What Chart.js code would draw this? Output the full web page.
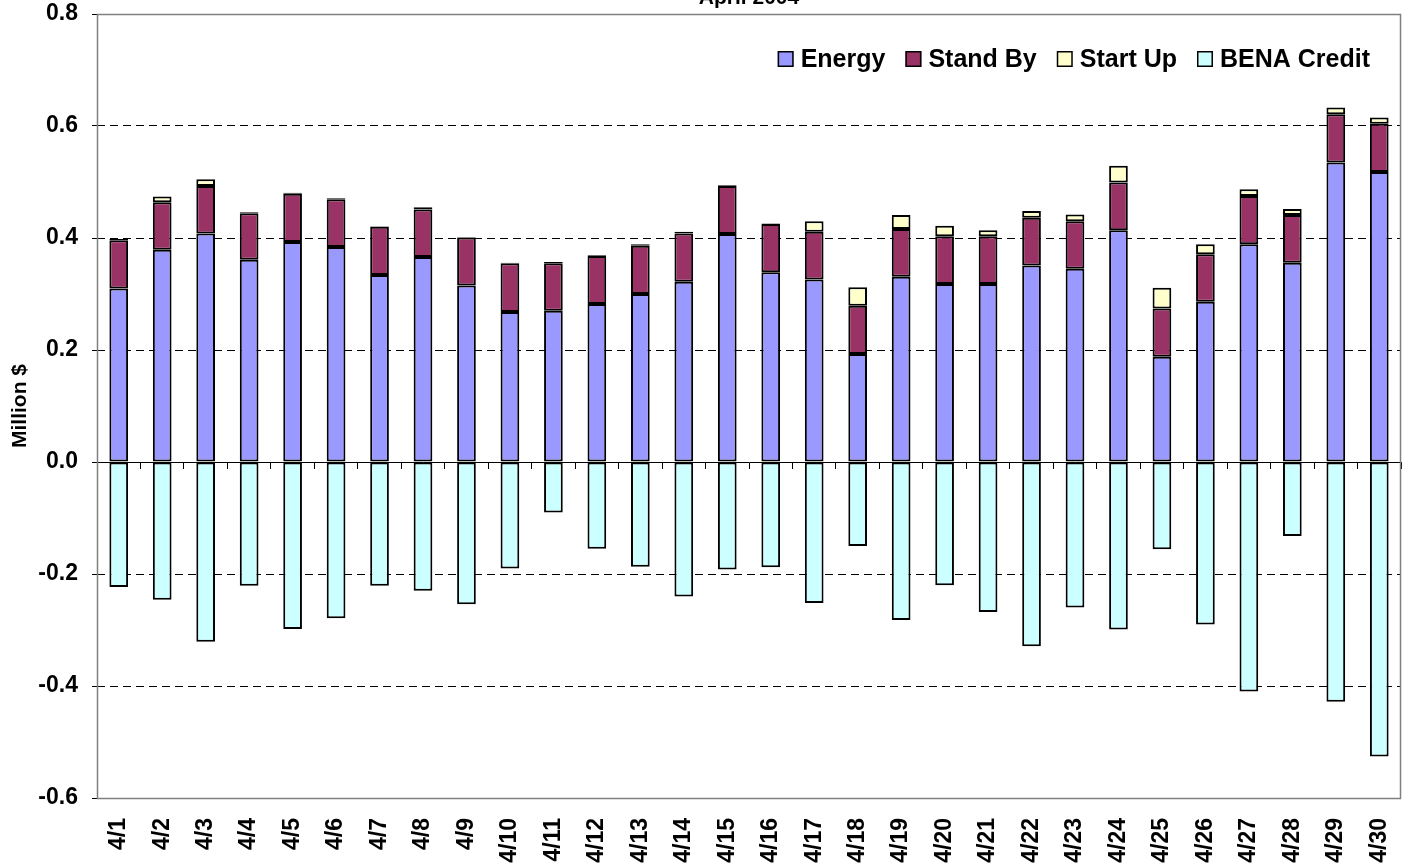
<!DOCTYPE html>
<html>
<head>
<meta charset="utf-8">
<script src="https://cdn.jsdelivr.net/npm/chart.js@4.4.0/dist/chart.umd.min.js"></script>
<style>
  body { margin: 0; background: #fff; }
  #wrap { width: 1405px; height: 865px; }
</style>
</head>
<body>
<div id="wrap"><canvas id="chart"></canvas></div>
<script>
// values, million $
const days = ["4/1", "4/2", "4/3", "4/4", "4/5", "4/6", "4/7", "4/8", "4/9", "4/10",
  "4/11", "4/12", "4/13", "4/14", "4/15", "4/16", "4/17", "4/18", "4/19", "4/20",
  "4/21", "4/22", "4/23", "4/24", "4/25", "4/26", "4/27", "4/28", "4/29", "4/30"];
const energy = [0.310, 0.379, 0.408, 0.361, 0.393, 0.384, 0.334, 0.366, 0.315, 0.268,
  0.270, 0.282, 0.300, 0.322, 0.407, 0.339, 0.326, 0.193, 0.331, 0.318,
  0.318, 0.351, 0.345, 0.414, 0.188, 0.286, 0.389, 0.356, 0.535, 0.518];
const standBy = [0.086, 0.085, 0.085, 0.083, 0.086, 0.085, 0.086, 0.085, 0.086, 0.087,
  0.085, 0.086, 0.086, 0.086, 0.086, 0.086, 0.085, 0.086, 0.085, 0.085,
  0.085, 0.085, 0.085, 0.085, 0.086, 0.085, 0.086, 0.085, 0.086, 0.086];
const startUp = [0.002, 0.010, 0.012, 0.002, 0.002, 0.002, 0.001, 0.004, 0.001, 0.001,
  0.002, 0.001, 0.003, 0.003, 0.001, 0.001, 0.019, 0.033, 0.025, 0.019,
  0.011, 0.012, 0.012, 0.030, 0.037, 0.018, 0.012, 0.011, 0.012, 0.011];
const benaCredit = [-0.223, -0.246, -0.321, -0.221, -0.298, -0.279, -0.221, -0.230, -0.254, -0.190,
  -0.090, -0.155, -0.187, -0.240, -0.192, -0.188, -0.252, -0.150, -0.282, -0.220,
  -0.268, -0.329, -0.260, -0.299, -0.156, -0.290, -0.410, -0.132, -0.428, -0.526];

const chartTitle = "April 2004";
const yTitle = "Million $";
const yMin = -0.6;
const yMax = 0.8;
const yStep = 0.2;

const FONT = '"Liberation Sans", Arial, sans-serif';

function near(a, b) {
  return Math.abs(a - b) < 1e-9;
}

// title sits half off the top edge, like the original
const titlePlugin = {
  id: "cutTitle",
  afterDraw(chart) {
    const { ctx, chartArea } = chart;
    ctx.save();
    ctx.font = "bold 21px " + FONT;
    ctx.fillStyle = "#000";
    ctx.textAlign = "center";
    ctx.textBaseline = "alphabetic";
    ctx.fillText(chartTitle, (chartArea.left + chartArea.right) / 2, 4);
    ctx.restore();
  }
};

// grey frame round the plot area
const framePlugin = {
  id: "frame",
  afterDatasetsDraw(chart) {
    const { ctx, chartArea } = chart;
    ctx.save();
    ctx.strokeStyle = "#808080";
    ctx.lineWidth = 1.5;
    ctx.strokeRect(chartArea.left + 0.5, chartArea.top + 0.5,
      chartArea.right - chartArea.left - 1, chartArea.bottom - chartArea.top);
    ctx.restore();
  }
};

// one-row legend inside the plot, top right
const legendPlugin = {
  id: "insideLegend",
  afterDraw(chart) {
    const ctx = chart.ctx;
    const sets = chart.data.datasets;
    const box = 16, gap = 7, spacing = 20;
    const cy = chart.chartArea.top + 45;
    let x = chart.chartArea.right - 31;
    ctx.save();
    ctx.font = "bold 25px " + FONT;
    ctx.textBaseline = "middle";
    ctx.lineWidth = 1.5;
    ctx.strokeStyle = "#000";
    for (let i = sets.length - 1; i >= 0; i--) {
      const w = ctx.measureText(sets[i].label).width;
      x -= w;
      ctx.fillStyle = "#000";
      ctx.fillText(sets[i].label, x, cy + 1);
      x -= gap + box;
      ctx.fillStyle = sets[i].backgroundColor;
      ctx.fillRect(x, cy - box / 2, box, box);
      ctx.strokeRect(x + 0.75, cy - box / 2 + 0.75, box - 1.5, box - 1.5);
      x -= spacing;
    }
    ctx.restore();
  }
};

function barSet(label, data, color) {
  return {
    label: label,
    data: data,
    backgroundColor: color,
    borderColor: "#000",
    borderWidth: 2,
    borderSkipped: false,
    stack: "day",
    barPercentage: 0.43,
    categoryPercentage: 1.0
  };
}

const ctx = document.getElementById("chart").getContext("2d");
new Chart(ctx, {
  type: "bar",
  data: {
    labels: days,
    datasets: [
      barSet("Energy", energy, "#9999FF"),
      barSet("Stand By", standBy, "#993366"),
      barSet("Start Up", startUp, "#FFFFCC"),
      barSet("BENA Credit", benaCredit, "#CCFFFF")
    ]
  },
  options: {
    responsive: true,
    maintainAspectRatio: false,
    animation: false,
    layout: { padding: { top: 14, right: 4, left: 0, bottom: 0 } },
    plugins: {
      legend: { display: false },
      title: { display: false },
      tooltip: { enabled: false }
    },
    scales: {
      x: {
        stacked: true,
        grid: { display: false },
        border: { display: false },
        ticks: {
          color: "#000",
          font: { family: FONT, size: 23, weight: "bold" },
          minRotation: 90,
          maxRotation: 90,
          padding: 12,
          autoSkip: false
        },
        afterFit: function(scale) {
          scale.height = 67;
          scale.paddingLeft = 0;
          scale.paddingRight = 0;
        }
      },
      // zero line with the little category ticks
      x2: {
        type: "category",
        position: { y: 0 },
        offset: true,
        grid: {
          offset: true,
          drawOnChartArea: false,
          tickLength: 6,
          tickColor: "#000",
          tickWidth: 1
        },
        ticks: { display: false },
        border: { color: "#000", width: 1 }
      },
      y: {
        stacked: true,
        min: yMin,
        max: yMax,
        ticks: {
          stepSize: yStep,
          padding: 14,
          color: "#000",
          font: { family: FONT, size: 23, weight: "bold" },
          callback: function(value) {
            return near(value, 0) ? "0.0" : value.toFixed(1);
          }
        },
        grid: {
          color: function(c) {
            const v = c.tick.value;
            return (near(v, yMax) || near(v, yMin) || near(v, 0)) ? "rgba(0,0,0,0)" : "#000";
          },
          tickColor: "#000",
          tickLength: 5,
          lineWidth: 1
        },
        border: { display: false, dash: [8, 5] },
        title: {
          display: true,
          text: yTitle,
          color: "#000",
          font: { family: FONT, size: 21, weight: "bold" },
          padding: { top: 8, bottom: 4 }
        },
        afterFit: function(scale) {
          scale.width = 97;
          scale.paddingTop = 0;
          scale.paddingBottom = 0;
        }
      }
    }
  },
  plugins: [titlePlugin, framePlugin, legendPlugin]
});
</script>
</body>
</html>
